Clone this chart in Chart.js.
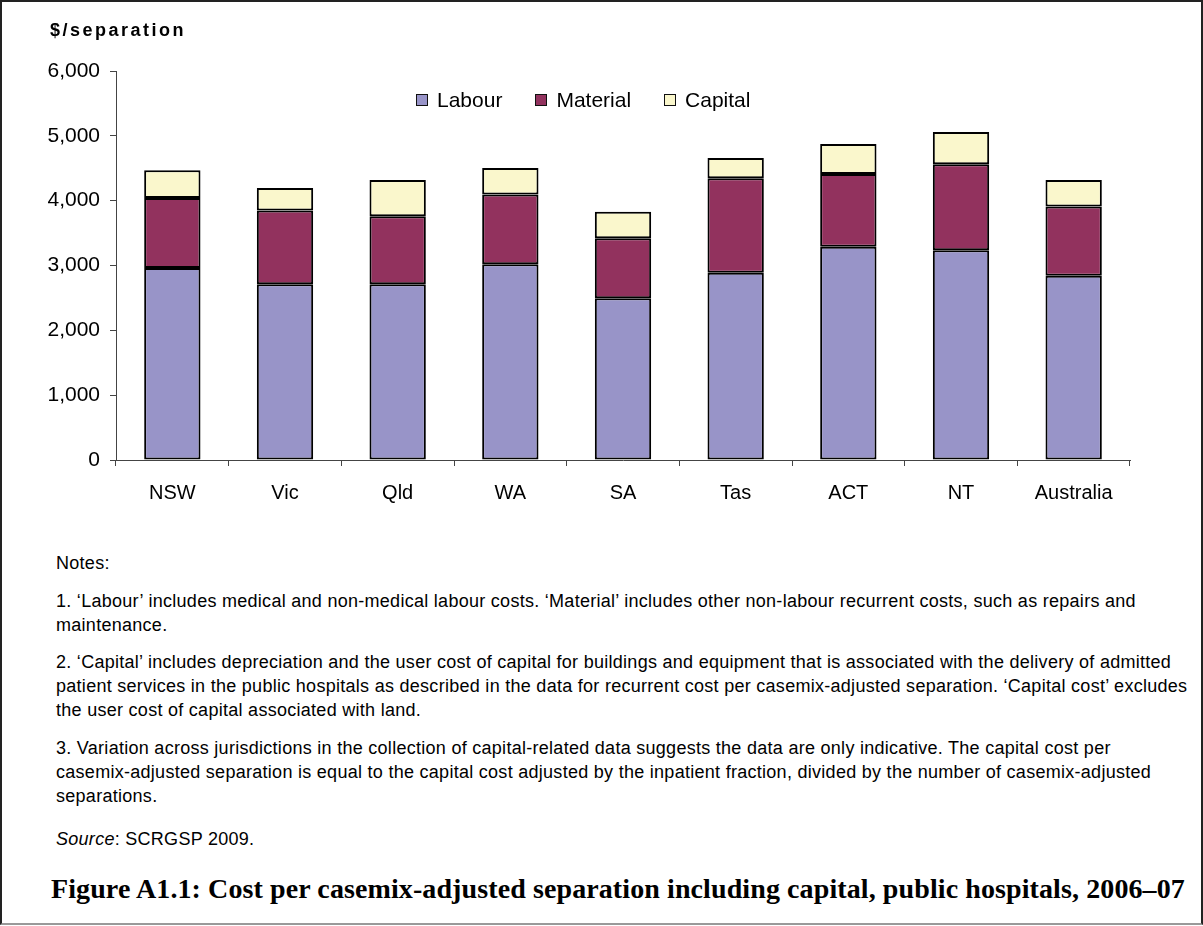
<!DOCTYPE html>
<html>
<head>
<meta charset="utf-8">
<script src="https://cdn.jsdelivr.net/npm/chart.js@4.4.1/dist/chart.umd.min.js"></script>
<style>
  html, body { margin: 0; padding: 0; background: #fff; }
  #page {
    position: relative;
    width: 1199px; height: 921px;
    border: 2px solid #222;
    border-bottom-color: #999;
    font-family: 'Liberation Sans', Arial, sans-serif;
    color: #000;
    overflow: hidden;
  }
  #chartBox { position: absolute; left: -2px; top: -2px; }
  #yTitle {
    position: absolute; left: 48px; top: 18px;
    font-weight: bold; font-size: 18px; letter-spacing: 2.5px;
  }
  #legend-container { position: absolute; left: 414px; top: 86px; }
  #notes {
    position: absolute; left: 54px; top: 549px;
    font-size: 18px; line-height: 24px; letter-spacing: 0.28px; white-space: nowrap;
  }
  #notes p { margin: 0 0 13.5px 0; }
  #notes p.last { margin-top: 19px; }
  #caption {
    position: absolute; left: 49px; top: 871px;
    font-family: 'Liberation Serif', 'Times New Roman', serif;
    font-weight: bold; font-size: 28px; line-height: 32px; letter-spacing: 0.1px; white-space: nowrap;
  }
</style>
</head>
<body>
<div id="page">
  <div id="chartBox"><canvas id="costChart" width="1203" height="520"></canvas></div>
  <div id="yTitle">$/separation</div>
  <div id="legend-container"></div>
  <div id="notes">
    <p>Notes:</p>
    <p>1. ‘Labour’ includes medical and non-medical labour costs. ‘Material’ includes other non-labour recurrent costs, such as repairs and<br>maintenance.</p>
    <p>2. ‘Capital’ includes depreciation and the user cost of capital for buildings and equipment that is associated with the delivery of admitted<br>patient services in the public hospitals as described in the data for recurrent cost per casemix-adjusted separation. ‘Capital cost’ excludes<br>the user cost of capital associated with land.</p>
    <p>3. Variation across jurisdictions in the collection of capital-related data suggests the data are only indicative. The capital cost per<br>casemix-adjusted separation is equal to the capital cost adjusted by the inpatient fraction, divided by the number of casemix-adjusted<br>separations.</p>
    <p class="last"><i>Source</i>: SCRGSP 2009.</p>
  </div>
  <div id="caption">Figure A1.1: Cost per casemix-adjusted separation including capital, public hospitals, 2006–07</div>
</div>

<script>
const jurisdictions = ['NSW', 'Vic', 'Qld', 'WA', 'SA', 'Tas', 'ACT', 'NT', 'Australia'];
const labour   = [2960, 2710, 2710, 3020, 2495, 2890, 3290, 3235, 2840];
const material = [1080, 1140, 1050, 1075,  925, 1455, 1120, 1325, 1070];
const capital  = [ 430,  345,  560,  410,  410,  315,  465,  500,  410];
const yTicks   = [0, 1000, 2000, 3000, 4000, 5000, 6000];

const FONT = "'Liberation Sans', Arial, sans-serif";

// row legend drawn as html so it can sit inside the plot area
const htmlLegendPlugin = {
    id: 'htmlLegend',
    afterUpdate(chart, args, options) {
        const box = document.getElementById(options.containerID);
        box.innerHTML = '';
        const ul = document.createElement('ul');
        ul.style.display = 'flex';
        ul.style.margin = 0;
        ul.style.padding = 0;
        ul.style.listStyle = 'none';
        box.appendChild(ul);

        chart.data.datasets.forEach((ds, i) => {
            const li = document.createElement('li');
            li.style.display = 'flex';
            li.style.alignItems = 'center';
            li.style.marginLeft = i ? '33px' : '0';

            const swatch = document.createElement('span');
            swatch.style.display = 'inline-block';
            swatch.style.width = '10px';
            swatch.style.height = '10px';
            swatch.style.background = ds.backgroundColor;
            swatch.style.border = '1px solid #111';
            swatch.style.marginRight = '9px';

            const text = document.createElement('span');
            text.style.fontSize = '21px';
            text.textContent = ds.label;

            li.appendChild(swatch);
            li.appendChild(text);
            ul.appendChild(li);
        });
    }
};

const barStyle = {
    borderColor: '#000',
    borderWidth: 2,
    borderSkipped: false,
    categoryPercentage: 0.5,
    barPercentage: 1.0
};

new Chart('costChart', {
    type: 'bar',
    data: {
        labels: jurisdictions,
        datasets: [
            { label: 'Labour',   data: labour,   backgroundColor: '#9894c8', ...barStyle },
            { label: 'Material', data: material, backgroundColor: '#92325e', ...barStyle },
            { label: 'Capital',  data: capital,  backgroundColor: '#faf7cc', ...barStyle }
        ]
    },
    options: {
        responsive: false,
        animation: false,
        devicePixelRatio: 1,
        layout: { padding: { top: 71, right: 73, left: 0, bottom: 0 } },
        plugins: {
            legend: { display: false },
            tooltip: { enabled: false },
            htmlLegend: { containerID: 'legend-container' }
        },
        scales: {
            x: {
                stacked: true,
                grid: { drawOnChartArea: false, color: '#444', tickLength: 6, offset: true },
                border: { color: '#444', width: 1 },
                ticks: { color: '#000', font: { family: FONT, size: 20 }, padding: 15 },
                afterFit(scale) { scale.height = 60; }
            },
            y: {
                stacked: true,
                min: 0,
                max: 6000,
                afterBuildTicks(scale) { scale.ticks = yTicks.map(v => ({ value: v })); },
                grid: { drawOnChartArea: false, color: '#444', tickLength: 6 },
                border: { color: '#444', width: 1 },
                ticks: {
                    color: '#000',
                    font: { family: FONT, size: 21 },
                    padding: 10,
                    callback: v => v.toLocaleString('en-US')
                },
                afterFit(scale) { scale.width = 116; }
            }
        }
    },
    plugins: [htmlLegendPlugin]
});
</script>
</body>
</html>
